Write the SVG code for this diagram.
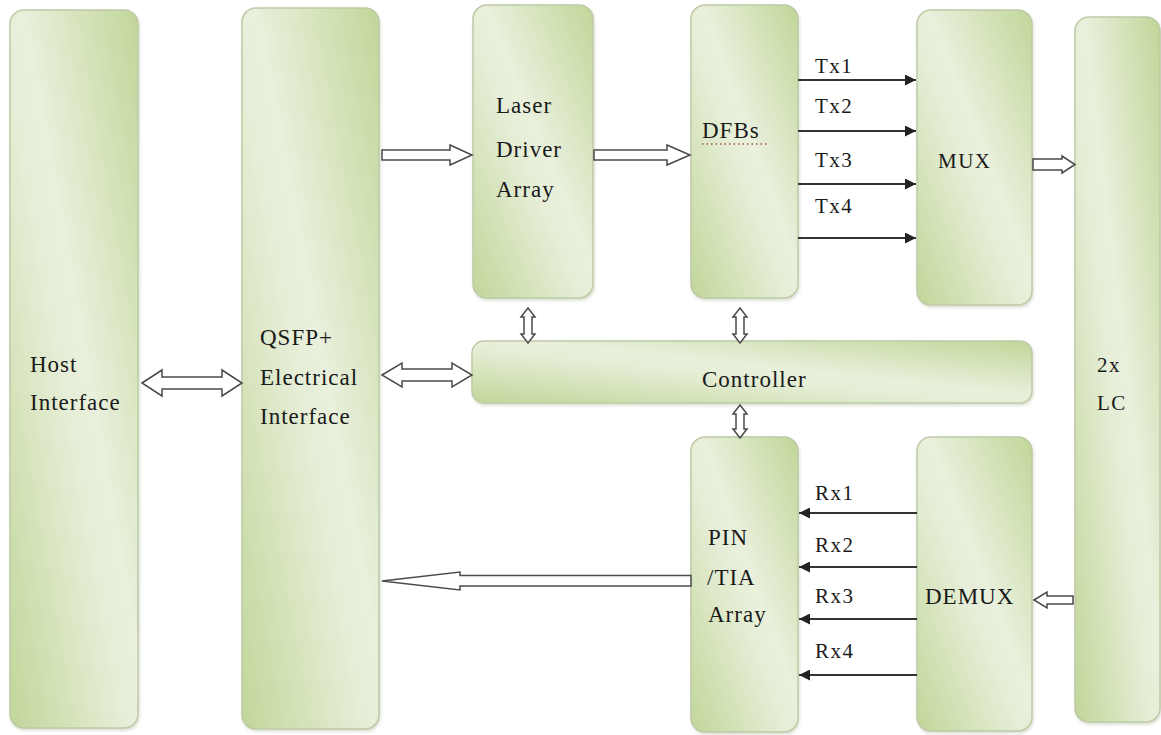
<svg xmlns="http://www.w3.org/2000/svg" width="1161" height="735" viewBox="0 0 1161 735">
<style>
.box{fill:url(#g);stroke:#bfcaa6;stroke-width:1.5;filter:url(#sh)}
.t{font-size:23px;fill:#1a1a1a;letter-spacing:1px}
.s{font-size:21px;fill:#1a1a1a;letter-spacing:1.5px}
.blk{fill:#fff;stroke:#4a4a4a;stroke-width:1.5;stroke-linejoin:miter}
.ln{stroke:#333;stroke-width:2.2;fill:none}
</style>
<defs>
<linearGradient id="g" x1="1" y1="0" x2="0" y2="1">
<stop offset="0" stop-color="#c1d699"/>
<stop offset="0.45" stop-color="#e9f0dc"/>
<stop offset="0.55" stop-color="#e6eed7"/>
<stop offset="1" stop-color="#c1d699"/>
</linearGradient>
<filter id="sh" x="-10%" y="-10%" width="120%" height="120%">
<feDropShadow dx="1" dy="2" stdDeviation="1.5" flood-color="#9aa585" flood-opacity="0.35"/>
</filter>
<marker id="ah" viewBox="0 0 10 10" refX="10" refY="5" markerWidth="7" markerHeight="5" markerUnits="strokeWidth" orient="auto">
<path d="M0,0 L10,5 L0,10 z" fill="#222"/>
</marker>
</defs>
<rect width="1161" height="735" fill="#fff"/>
<g font-family="Liberation Serif, DejaVu Serif, serif">
<g id="host"><rect class="box" x="10" y="10" width="128" height="718" rx="14"/>
<text class="t" x="30" y="372">Host</text>
<text class="t" x="30" y="410">Interface</text></g>

<g id="qsfp"><rect class="box" x="242" y="8" width="137" height="721" rx="14"/>
<text class="t" x="260" y="345">QSFP+</text>
<text class="t" x="260" y="385">Electrical</text>
<text class="t" x="260" y="424">Interface</text></g>

<g id="laser"><rect class="box" x="473" y="5" width="120" height="293" rx="14"/>
<text class="t" x="496" y="113">Laser</text>
<text class="t" x="496" y="157">Driver</text>
<text class="t" x="496" y="197">Array</text></g>

<g id="dfbs"><rect class="box" x="691" y="5" width="107" height="293" rx="14"/>
<text class="t" x="702" y="138">DFBs</text>
<line x1="702" y1="144" x2="768" y2="144" stroke="#a0583a" stroke-width="1.5" stroke-dasharray="1.5 3"/></g>

<g id="mux"><rect class="box" x="917" y="10" width="115" height="295" rx="14"/>
<text class="s" x="938" y="168">MUX</text></g>

<g id="lc"><rect class="box" x="1075" y="17" width="85" height="705" rx="14"/>
<text class="s" x="1097" y="372">2x</text>
<text class="s" x="1097" y="410">LC</text></g>

<g id="controller"><rect class="box" x="472" y="341" width="560" height="62" rx="12"/>
<text class="t" x="702" y="387">Controller</text></g>

<g id="pin"><rect class="box" x="691" y="437" width="107" height="295" rx="14"/>
<text class="t" x="708" y="545">PIN</text>
<text class="t" x="707" y="585">/TIA</text>
<text class="t" x="708" y="622">Array</text></g>

<g id="demux"><rect class="box" x="917" y="437" width="115" height="294" rx="14"/>
<text class="t" x="925" y="604">DEMUX</text></g>

<g id="connectors">
<polygon class="blk" points="142,383 162,370 162,377 222,377 222,370 242,383 222,396 222,389 162,389 162,396"/>
<polygon class="blk" points="382,375 402,363 402,369 452,369 452,363 472,375 452,387 452,381 402,381 402,387"/>
<polygon class="blk" points="382,150 450,150 450,145 472,155 450,165 450,160 382,160"/>
<polygon class="blk" points="594,150 667,150 667,145 690,155 667,165 667,160 594,160"/>
<polygon class="blk" points="1033,159 1062,159 1062,156 1075,164.5 1062,173 1062,170 1033,170"/>
<polygon class="blk" points="1034,600 1047,592 1047,596 1073,596 1073,604 1047,604 1047,608"/>
<polygon class="blk" points="528,308 535,317 532,317 532,334 535,334 528,343 521,334 524,334 524,317 521,317"/>
<polygon class="blk" points="740,308 747,317 744,317 744,334 747,334 740,343 733,334 736,334 736,317 733,317"/>
<polygon class="blk" points="740,405 747,414 744,414 744,429 747,429 740,438 733,429 736,429 736,414 733,414"/>
<polygon class="blk" points="382,581 460,572 460,575.5 691,575.5 691,586 460,586 460,590"/>
<line class="ln" x1="798" y1="80" x2="916" y2="80" marker-end="url(#ah)"/>
<line class="ln" x1="798" y1="131" x2="916" y2="131" marker-end="url(#ah)"/>
<line class="ln" x1="798" y1="184" x2="916" y2="184" marker-end="url(#ah)"/>
<line class="ln" x1="798" y1="238" x2="916" y2="238" marker-end="url(#ah)"/>
<line class="ln" x1="917" y1="513" x2="799" y2="513" marker-end="url(#ah)"/>
<line class="ln" x1="917" y1="567" x2="799" y2="567" marker-end="url(#ah)"/>
<line class="ln" x1="917" y1="619" x2="799" y2="619" marker-end="url(#ah)"/>
<line class="ln" x1="917" y1="675" x2="799" y2="675" marker-end="url(#ah)"/>
<text class="s" x="815" y="73">Tx1</text>
<text class="s" x="815" y="113">Tx2</text>
<text class="s" x="815" y="167">Tx3</text>
<text class="s" x="815" y="213">Tx4</text>
<text class="s" x="815" y="500">Rx1</text>
<text class="s" x="815" y="552">Rx2</text>
<text class="s" x="815" y="603">Rx3</text>
<text class="s" x="815" y="658">Rx4</text>
</g>
</g>
</svg>
